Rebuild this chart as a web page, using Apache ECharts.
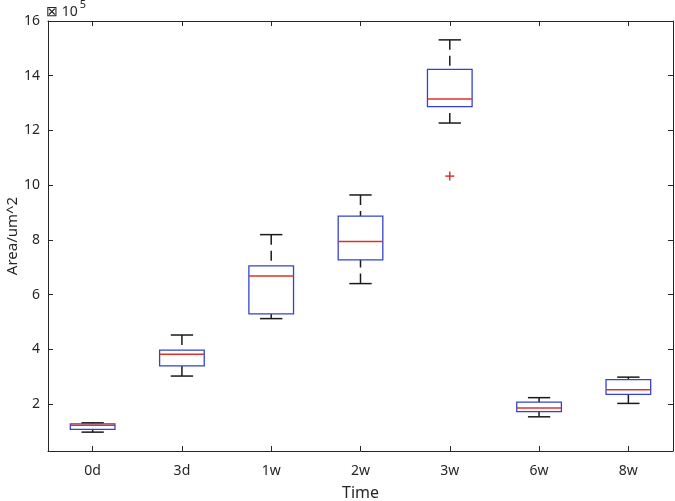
<!DOCTYPE html>
<html>
<head>
<meta charset="utf-8">
<script src="https://cdn.jsdelivr.net/npm/echarts@6/dist/echarts.min.js"></script>
<style>html,body{margin:0;padding:0;background:#fff}#c{width:675px;height:501px}</style>
</head>
<body>
<div id="c"></div>
<script>
const categories = ['0d', '3d', '1w', '2w', '3w', '6w', '8w'];
const lowerWhisker = [0.97, 3.02, 5.12, 6.40, 12.27, 1.53, 2.02];
const q1 = [1.07, 3.39, 5.29, 7.27, 12.87, 1.72, 2.35];
const median = [1.22, 3.82, 6.68, 7.94, 13.15, 1.85, 2.52];
const q3 = [1.27, 3.97, 7.05, 8.87, 14.23, 2.07, 2.89];
const upperWhisker = [1.31, 4.52, 8.19, 9.64, 15.31, 2.23, 2.98];
const outlierCategory = ['3w'];
const outlierValue = [10.33];
const yTicks = [2, 4, 6, 8, 10, 12, 14, 16];

const FONT = 'Noto Sans';
const AX = '#262626';

const boxData = categories.map((c, i) => [i, lowerWhisker[i], q1[i], median[i], q3[i], upperWhisker[i]]);
const outData = outlierCategory.map((c, i) => [categories.indexOf(c), outlierValue[i]]);

function renderBox(params, api) {
  const i = api.value(0);
  const pLo = api.coord([i, api.value(1)]);
  const pQ1 = api.coord([i, api.value(2)]);
  const pMed = api.coord([i, api.value(3)]);
  const pQ3 = api.coord([i, api.value(4)]);
  const pHi = api.coord([i, api.value(5)]);
  const cw = api.size([1, 0])[0];
  const bw = cw * 0.5, capw = cw * 0.25;
  const x = pMed[0];
  const wStyle = { stroke: '#1a1a1a', lineWidth: 1.5, lineDash: [10, 6], fill: null };
  const cStyle = { stroke: '#1a1a1a', lineWidth: 1.5, fill: null };
  return {
    type: 'group',
    children: [
      { type: 'line', shape: { x1: x, y1: pHi[1], x2: x, y2: pQ3[1] }, style: wStyle },
      { type: 'line', shape: { x1: x, y1: pLo[1], x2: x, y2: pQ1[1] }, style: wStyle },
      { type: 'line', shape: { x1: x - capw / 2, y1: pHi[1], x2: x + capw / 2, y2: pHi[1] }, style: cStyle },
      { type: 'line', shape: { x1: x - capw / 2, y1: pLo[1], x2: x + capw / 2, y2: pLo[1] }, style: cStyle },
      { type: 'rect', shape: { x: x - bw / 2, y: pQ3[1], width: bw, height: pQ1[1] - pQ3[1] },
        style: { stroke: '#3344cc', lineWidth: 1.3, fill: null } },
      { type: 'line', shape: { x1: x - bw / 2, y1: pMed[1], x2: x + bw / 2, y2: pMed[1] },
        style: { stroke: '#e0302a', lineWidth: 1.5 } }
    ]
  };
}

function renderOutlier(params, api) {
  const p = api.coord([api.value(0), api.value(1)]);
  const s = 4.5;
  const st = { stroke: '#e0302a', lineWidth: 1.5 };
  return {
    type: 'group',
    children: [
      { type: 'line', shape: { x1: p[0] - s, y1: p[1], x2: p[0] + s, y2: p[1] }, style: st },
      { type: 'line', shape: { x1: p[0], y1: p[1] - s, x2: p[0], y2: p[1] + s }, style: st }
    ]
  };
}

const chart = echarts.init(document.getElementById('c'), null, { renderer: 'canvas' });
const axisLine = { show: true, lineStyle: { color: AX, width: 1 } };
chart.setOption({
  animation: false,
  textStyle: { fontFamily: FONT },
  grid: { left: 48, right: 2, top: 21, bottom: 50, containLabel: false, outerBoundsMode: 'none' },
  xAxis: [
    {
      type: 'category', data: categories, position: 'bottom',
      boundaryGap: true,
      axisLine: axisLine,
      axisTick: { show: true, inside: true, alignWithLabel: true, length: 5, lineStyle: { color: AX } },
      axisLabel: { color: AX, fontSize: 14, fontFamily: FONT, margin: 13 },
      name: 'Time', nameLocation: 'middle', nameGap: 34, nameMoveOverlap: false,
      nameTextStyle: { color: AX, fontSize: 16, fontFamily: FONT },
      splitLine: { show: false }
    },
    {
      type: 'category', data: categories, position: 'top',
      boundaryGap: true,
      axisLine: axisLine,
      axisTick: { show: true, inside: true, alignWithLabel: true, length: 5, lineStyle: { color: AX } },
      axisLabel: { show: false },
      splitLine: { show: false }
    }
  ],
  yAxis: [
    {
      type: 'value', position: 'left', min: 0.28, max: 16,
      axisLine: axisLine,
      axisTick: { show: true, inside: true, length: 5, customValues: yTicks, lineStyle: { color: AX } },
      axisLabel: { color: AX, fontSize: 14, fontFamily: FONT, margin: 8, customValues: yTicks },
      name: 'Area/um^2', nameLocation: 'middle', nameGap: 28, nameMoveOverlap: false,
      nameTextStyle: { color: AX, fontSize: 15, fontFamily: FONT },
      splitLine: { show: false }
    },
    {
      type: 'value', position: 'right', min: 0.28, max: 16,
      axisLine: axisLine,
      axisTick: { show: true, inside: true, length: 5, customValues: yTicks, lineStyle: { color: AX } },
      axisLabel: { show: false, customValues: yTicks },
      splitLine: { show: false }
    }
  ],
  graphic: [
    {
      type: 'text', left: 46, top: -1,
      style: {
        text: '{a|⊠ 10}{b|5}',
        rich: {
          a: { fontSize: 14, fontFamily: FONT, fill: AX, verticalAlign: 'bottom', lineHeight: 20 },
          b: { fontSize: 11, fontFamily: FONT, fill: AX, verticalAlign: 'top', padding: [0, 0, 8, 2], lineHeight: 20 }
        }
      }
    }
  ],
  series: [
    { type: 'custom', name: 'box', xAxisIndex: 0, yAxisIndex: 0, data: boxData,
      encode: { x: 0, y: [1, 2, 3, 4, 5] }, renderItem: renderBox, clip: false },
    { type: 'custom', name: 'outlier', xAxisIndex: 0, yAxisIndex: 0, data: outData,
      encode: { x: 0, y: 1 }, renderItem: renderOutlier, clip: false }
  ]
});
</script>
</body>
</html>
